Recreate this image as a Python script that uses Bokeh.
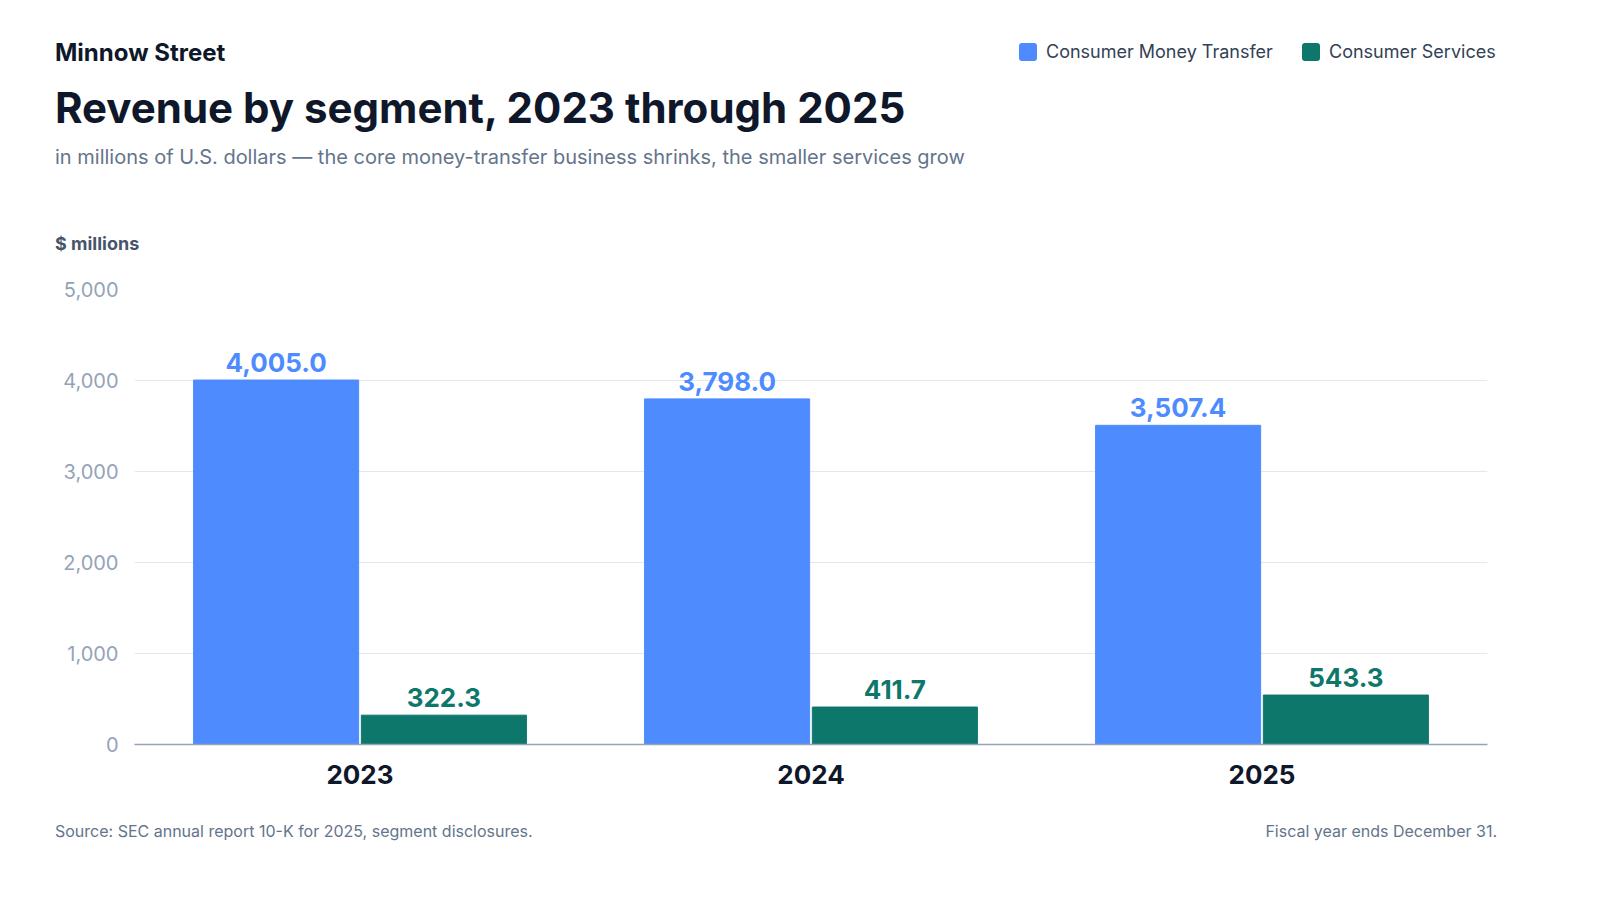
from bokeh.plotting import figure
from bokeh.models import ColumnDataSource, NumeralTickFormatter, Div
from bokeh.layouts import column
from bokeh.transform import dodge
from bokeh.core.properties import value
from bokeh.embed import file_html
from bokeh.resources import INLINE

years = ["2023", "2024", "2025"]
money_transfer = [4005.0, 3798.0, 3507.4]
services = [322.3, 411.7, 543.3]
series_names = ["Consumer Money Transfer", "Consumer Services"]
BLUE, TEAL = "#4d8bff", "#0e776c"
F = "Inter"

src = ColumnDataSource(dict(
    year=years, mt=money_transfer, sv=services,
    mt_lbl=[f"{v:,.1f}" for v in money_transfer],
    sv_lbl=[f"{v:,.1f}" for v in services],
))

W = 1568
HEAD_H, FIG_H, FOOT_H = 260, 542, 50

p = figure(x_range=years, y_range=(0, 5000), width=W, height=FIG_H,
           output_backend="svg", toolbar_location=None,
           min_border_left=134, min_border_right=81, min_border_top=29, min_border_bottom=58)
p.x_range.range_padding = 0
p.outline_line_color = None

p.vbar(x=dodge("year", -0.186, range=p.x_range), top="mt", width=0.366, source=src, color=BLUE)
p.vbar(x=dodge("year", 0.186, range=p.x_range), top="sv", width=0.366, source=src, color=TEAL)
p.text(x=dodge("year", -0.186, range=p.x_range), y="mt", text="mt_lbl", source=src,
       text_font=value(F), text_font_style="bold", text_font_size="26px", text_color=BLUE,
       text_align="center", text_baseline="bottom", y_offset=-8)
p.text(x=dodge("year", 0.186, range=p.x_range), y="sv", text="sv_lbl", source=src,
       text_font=value(F), text_font_style="bold", text_font_size="26px", text_color=TEAL,
       text_align="center", text_baseline="bottom", y_offset=-8)

p.xgrid.grid_line_color = None
p.ygrid.grid_line_color = "#e5e7eb"
p.yaxis.ticker = [0, 1000, 2000, 3000, 4000, 5000]
p.yaxis.formatter = NumeralTickFormatter(format="0,0")
p.yaxis.axis_line_color = None
p.yaxis.major_tick_line_color = None
p.yaxis.minor_tick_line_color = None
p.yaxis.major_label_text_font = F
p.yaxis.major_label_text_font_size = "20px"
p.yaxis.major_label_text_color = "#94a3b8"
p.yaxis.major_label_standoff = 10
p.xaxis.axis_line_color = "#94a3b8"
p.xaxis.axis_line_width = 1.5
p.xaxis.major_tick_line_color = None
p.xaxis.minor_tick_line_color = None
p.xaxis.major_label_text_font = F
p.xaxis.major_label_text_font_size = "26px"
p.xaxis.major_label_text_font_style = "bold"
p.xaxis.major_label_text_color = "#0f172a"
p.xaxis.major_label_standoff = 14

def span(x, cy, t, size, color, bold=False, right=None, top0=8):
    top = cy - top0 - size * 0.6
    pos = f"right:{right}px;" if right is not None else f"left:{x - 8}px;"
    return (f'<div style="position:absolute;{pos}top:{top}px;font-family:Inter;'
            f'font-size:{size}px;line-height:{size*1.2}px;color:{color};white-space:nowrap;'
            f'font-weight:{700 if bold else 400};">{t}</div>')

def box(x, cy, col):
    return (f'<div style="position:absolute;left:{x - 8}px;top:{cy - 8 - 9}px;width:18px;height:18px;'
            f'border-radius:3px;background:{col};"></div>')

head = "".join([
    span(63, 61, "Minnow Street", 24, "#0f172a", True),
    span(63, 116, "Revenue by segment, 2023 through 2025", 42, "#0f172a", True),
    span(63, 165, "in millions of U.S. dollars — the core money-transfer business shrinks, the smaller services grow", 20, "#64748b"),
    span(63, 252, "$ millions", 18, "#475569", True),
    box(1027, 60, BLUE), span(1054, 60, series_names[0], 18, "#334155"),
    box(1310, 60, TEAL), span(1337, 60, series_names[1], 18, "#334155"),
])
foot_top = 8 + HEAD_H + FIG_H
foot = "".join([
    span(63, 840, "Source: SEC annual report 10-K for 2025, segment disclosures.", 16, "#64748b", top0=foot_top),
    span(0, 840, "Fiscal year ends December 31.", 16, "#64748b", right=W - (1505 - 8), top0=foot_top),
])

hdiv = Div(text=f'<div style="position:relative;width:{W}px;height:{HEAD_H}px;">{head}</div>',
           width=W, height=HEAD_H, margin=0)
fdiv = Div(text=f'<div style="position:relative;width:{W}px;height:{FOOT_H}px;">{foot}</div>',
           width=W, height=FOOT_H, margin=0)
p.margin = 0
layout = column(hdiv, p, fdiv, spacing=0)

open("out.html", "w").write(file_html(layout, INLINE))
